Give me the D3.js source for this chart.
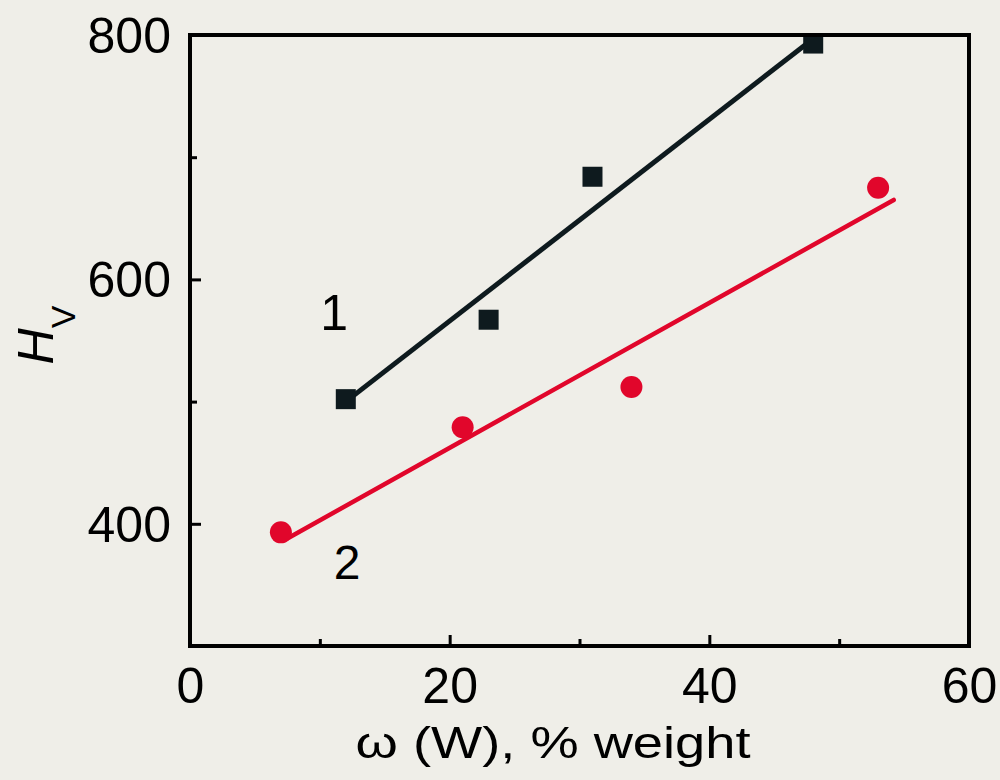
<!DOCTYPE html>
<html><head><meta charset="utf-8">
<script src="https://cdn.jsdelivr.net/npm/d3@7"></script>
<style>html,body{margin:0;padding:0;background:#efeee8;}svg{display:block;}</style>
</head><body>
<svg id="c" width="1000" height="780"></svg>
<script>
// Data
const xTicks = [0, 20, 40, 60];
const xMinor = [10, 30, 50];
const yTicks = [400, 600, 800];
const yMinor = [500, 700];
const s1x = [12, 23, 31, 48];
const s1y = [502, 567, 684, 793];
const s2x = [7, 21, 34, 53];
const s2y = [393, 479, 512, 675];
const fit1x = [12, 48];
const fit1y = [500, 797];
const fit2x = [7.5, 54.2];
const fit2y = [388, 665];

const svg = d3.select("#c");
const L = 190, R = 969, T = 35, B = 646;
const x = d3.scaleLinear().domain([0, 60]).range([L, R]);
const y = d3.scaleLinear().domain([300, 800]).range([B, T]);
const font = "Liberation Sans, Arial, sans-serif";
const black = "#0e1a1e", red = "#e1062b";

svg.append("rect").attr("width",1000).attr("height",780).attr("fill","#efeee8");

// fit lines
const line = d3.line().x(d=>x(d[0])).y(d=>y(d[1]));
svg.append("path").datum(d3.zip(fit1x, fit1y)).attr("d", line)
  .attr("stroke", black).attr("stroke-width", 5).attr("fill","none");
svg.append("path").datum(d3.zip(fit2x, fit2y)).attr("d", line)
  .attr("stroke", red).attr("stroke-width", 4.5).attr("fill","none").attr("stroke-linecap","round");

// markers
svg.selectAll("rect.s1").data(d3.zip(s1x, s1y)).join("rect")
  .attr("x", d=>x(d[0])-10).attr("y", d=>y(d[1])-10).attr("width",20).attr("height",20).attr("fill", black);
svg.selectAll("circle.s2").data(d3.zip(s2x, s2y)).join("circle")
  .attr("cx", d=>x(d[0])).attr("cy", d=>y(d[1])).attr("r", 11).attr("fill", red);

// axes
const g = svg.append("g");
const axB = g.append("g").attr("transform",`translate(0,${B})`)
  .call(d3.axisBottom(x).tickValues(xTicks).tickSize(-11).tickPadding(21).tickFormat(d3.format("d")));
const axBm = g.append("g").attr("transform",`translate(0,${B})`)
  .call(d3.axisBottom(x).tickValues(xMinor).tickSize(-7).tickFormat(""));
const axL = g.append("g").attr("transform",`translate(${L},0)`)
  .call(d3.axisLeft(y).tickValues(yTicks).tickSize(-11).tickPadding(19).tickFormat(d3.format("d")));
const axLm = g.append("g").attr("transform",`translate(${L},0)`)
  .call(d3.axisLeft(y).tickValues(yMinor).tickSize(-7).tickFormat(""));
[axB, axBm, axL, axLm].forEach(a=>{
  a.select(".domain").remove();
  a.selectAll(".tick line").attr("stroke","#000").attr("stroke-width",3);
  a.selectAll("text").attr("font-family", font).attr("font-size", 50).attr("fill","#000");
});
axB.selectAll(".tick text").attr("dy","0.71em");
axL.selectAll(".tick text").attr("dy","0.35em");

// frame
svg.append("rect").attr("x",L).attr("y",T).attr("width",R-L).attr("height",B-T)
  .attr("fill","none").attr("stroke","#000").attr("stroke-width",4);

// series labels
svg.append("text").attr("x", x(11.1)).attr("y", y(558.5)).attr("text-anchor","middle")
  .attr("font-family",font).attr("font-size",50).text("1");
svg.append("text").attr("x", x(12.1)).attr("y", y(355)).attr("text-anchor","middle")
  .attr("font-family",font).attr("font-size",48).text("2");

// axis titles
svg.append("text").attr("x", 553).attr("y", 758).attr("text-anchor","middle")
  .attr("font-family",font).attr("font-size",44)
  .attr("textLength",395).attr("lengthAdjust","spacingAndGlyphs").text("ω (W), % weight");
const yt = svg.append("text").attr("transform","translate(53,335) rotate(-90)")
  .attr("text-anchor","middle").attr("font-family",font).attr("font-size",50);
yt.append("tspan").attr("font-style","italic").text("H");
yt.append("tspan").attr("font-size",34).attr("dy",22).text("V");
</script>
</body></html>
